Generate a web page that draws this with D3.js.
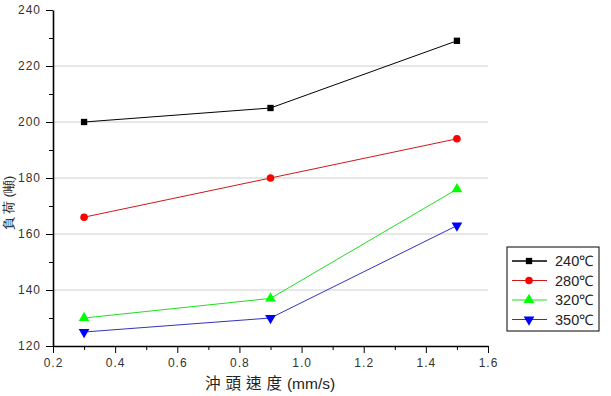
<!DOCTYPE html>
<html>
<head>
<meta charset="utf-8">
<script src="https://cdn.jsdelivr.net/npm/d3@7"></script>
<style>
  body { margin: 0; background: #fff; }
  text { font-family: "Liberation Sans", Arial, sans-serif; }
</style>
</head>
<body>
<div id="chart"></div>
<script>
// data
const speeds = [0.3, 0.9, 1.5];
const temps = ["240℃", "280℃", "320℃", "350℃"];
const load240 = [200, 205, 229];
const load280 = [166, 180, 194];
const load320 = [130, 137, 176];
const load350 = [125, 130, 163];
const xTicks = [0.2, 0.4, 0.6, 0.8, 1.0, 1.2, 1.4, 1.6];
const yTicks = [120, 140, 160, 180, 200, 220, 240];

const series = [
  {name: temps[0], values: load240, color: "#000", line: "#000", shape: d3.symbolSquare, size: 40},
  {name: temps[1], values: load280, color: "#f00", line: "#d01818", shape: d3.symbolCircle, size: 45},
  {name: temps[2], values: load320, color: "#0f0", line: "#22dd22", shape: d3.symbolTriangle, size: 50},
  {name: temps[3], values: load350, color: "#00f", line: "#3333bb", shape: d3.symbolTriangle, size: 50, flip: true}
];

const W = 611, H = 396;
const margin = {top: 10, left: 53, right: 123, bottom: 50};

let svg = d3.select("#chart").append("svg")
  .attr("width", W).attr("height", H);

let x = d3.scaleLinear().domain([0.2, 1.6]).range([margin.left, W - margin.right]);
let y = d3.scaleLinear().domain([120, 240]).range([H - margin.bottom, margin.top]);

// gridlines
svg.append("g")
  .selectAll("line")
  .data(yTicks.filter(t => t > 120 && t < 240))
  .enter().append("line")
    .attr("x1", x(0.2)).attr("x2", x(1.6))
    .attr("y1", d => y(d)).attr("y2", d => y(d))
    .attr("stroke", "#cfcfcf").attr("stroke-width", 1.2);

// minor ticks
svg.append("g")
  .attr("transform", "translate(0," + y(120) + ")")
  .call(d3.axisBottom(x).tickValues(d3.range(0.3, 1.6, 0.2)).tickSize(4).tickFormat(""))
  .call(g => g.select(".domain").remove());
svg.append("g")
  .attr("transform", "translate(" + x(0.2) + ",0)")
  .call(d3.axisLeft(y).tickValues(d3.range(130, 240, 20)).tickSize(4).tickFormat(""))
  .call(g => g.select(".domain").remove());

// main axes
let xAxis = svg.append("g")
  .attr("transform", "translate(0," + y(120) + ")")
  .call(d3.axisBottom(x).tickValues(xTicks).tickSize(7).tickSizeOuter(0).tickFormat(d3.format(".1f")));
let yAxis = svg.append("g")
  .attr("transform", "translate(" + x(0.2) + ",0)")
  .call(d3.axisLeft(y).tickValues(yTicks).tickSize(7).tickSizeOuter(0));

[xAxis, yAxis].forEach(a => {
  a.select(".domain").attr("stroke-width", 1.6);
  a.selectAll("text").attr("font-size", 12).attr("letter-spacing", 1).attr("fill", "#333");
});
xAxis.selectAll("text").attr("dy", "0.95em");
yAxis.selectAll("text").attr("x", -12);

// lines + markers
let line = d3.line().x((d, i) => x(speeds[i])).y(d => y(d));

series.forEach(s => {
  svg.append("path")
    .datum(s.values)
    .attr("d", line)
    .attr("fill", "none")
    .attr("stroke", s.line)
    .attr("stroke-width", 1);
  svg.append("g").selectAll("path")
    .data(s.values)
    .enter().append("path")
      .attr("d", d3.symbol().type(s.shape).size(s.size))
      .attr("transform", (d, i) => "translate(" + x(speeds[i]) + "," + y(d) + ")" + (s.flip ? " rotate(180)" : ""))
      .attr("fill", s.color);
});

// axis titles
svg.append("text")
  .attr("x", 270).attr("y", 389)
  .attr("text-anchor", "middle")
  .attr("font-size", 15.5)
  .attr("fill", "#222")
  .html('<tspan font-family="Noto Sans CJK TC" letter-spacing="5">沖頭速度</tspan><tspan>(mm/s)</tspan>');

svg.append("text")
  .attr("transform", "translate(13,203) rotate(-90)")
  .attr("text-anchor", "middle")
  .attr("font-size", 12.5)
  .attr("font-family", "Noto Sans CJK TC")
  .attr("fill", "#222")
  .text("負 荷 (噸)");

// legend
let lg = svg.append("g").attr("transform", "translate(507,247)");
lg.append("rect")
  .attr("width", 92).attr("height", 84)
  .attr("fill", "#fff").attr("stroke", "#000").attr("stroke-width", 1);

series.forEach((s, i) => {
  let ry = 14 + i * 19.5;
  lg.append("line")
    .attr("x1", 5).attr("x2", 40).attr("y1", ry).attr("y2", ry)
    .attr("stroke", s.line).attr("stroke-width", s.line === "#000" ? 1.6 : 1);
  lg.append("path")
    .attr("d", d3.symbol().type(s.shape).size(s.size))
    .attr("transform", "translate(22," + ry + ")" + (s.flip ? " rotate(180)" : ""))
    .attr("fill", s.color);
  lg.append("text")
    .attr("x", 48).attr("y", ry + 5)
    .attr("font-size", 14.5)
    .attr("fill", "#222")
    .text(s.name);
});
</script>
</body>
</html>
